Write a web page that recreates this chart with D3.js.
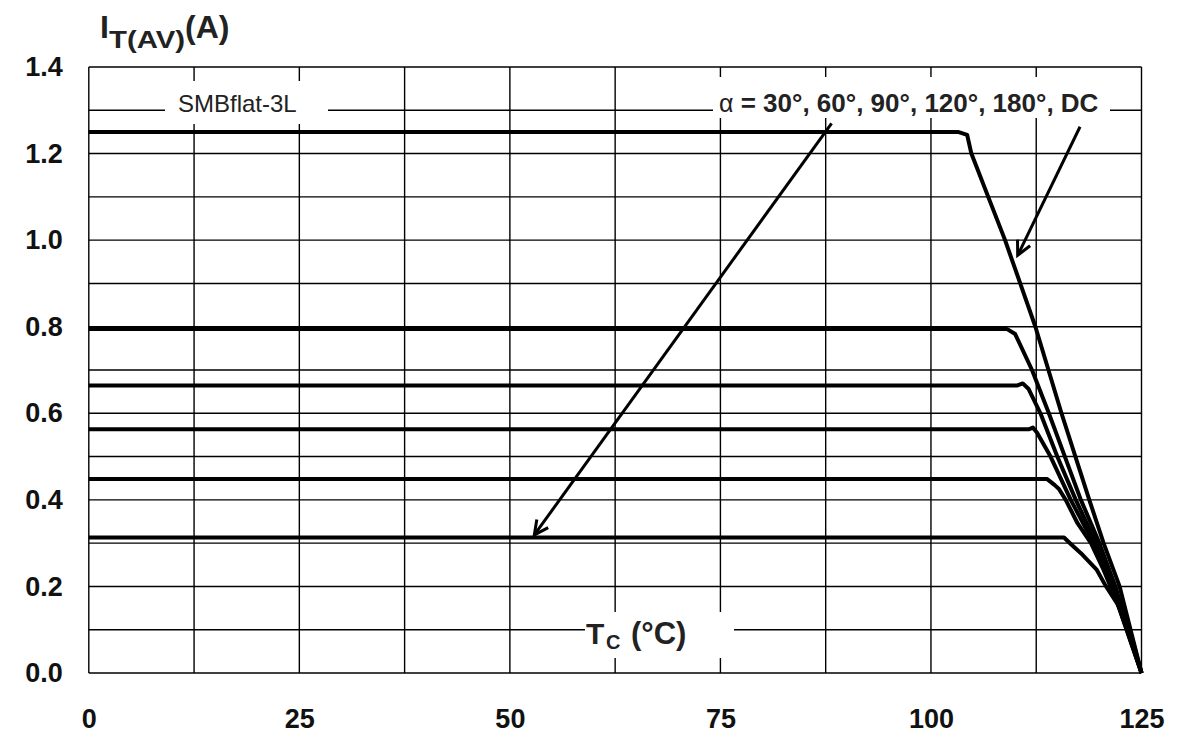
<!DOCTYPE html>
<html>
<head>
<meta charset="utf-8">
<script src="https://cdn.jsdelivr.net/npm/d3@7"></script>
<style>
  body { margin: 0; background: #fff; }
  svg { display: block; font-family: "Liberation Sans", Arial, sans-serif; }
</style>
</head>
<body>
<div id="grafico"></div>
<script>
// Datos (Tc en °C, IT(AV) en A)
const tempTicks = [0, 25, 50, 75, 100, 125];
const currentTicks = [0, 0.2, 0.4, 0.6, 0.8, 1.0, 1.2, 1.4];
const tempGrid = d3.range(0, 125.1, 12.5);
const currentGrid = d3.range(0, 1.41, 0.1);

const serieDC = [[0, 1.25], [103.2, 1.25], [104.3, 1.243], [104.8, 1.2], [106.8, 1.1], [108.8, 1.0],
  [110.6, 0.9], [112.4, 0.8], [115.5, 0.6], [118.8, 0.4], [120.5, 0.3], [122.4, 0.2], [125, 0]];
const serie180 = [[0, 0.795], [109.0, 0.795], [110.0, 0.783], [112.0, 0.7], [114.0, 0.6], [115.9, 0.5],
  [117.8, 0.4], [120.0, 0.3], [121.9, 0.2], [125, 0]];
const serie120 = [[0, 0.664], [110.2, 0.664], [110.9, 0.669], [111.6, 0.656], [113.0, 0.6], [115.0, 0.5],
  [117.2, 0.4], [119.6, 0.3], [121.7, 0.2], [125, 0]];
const serie90 = [[0, 0.563], [111.6, 0.563], [112.1, 0.567], [112.6, 0.555], [114.2, 0.5], [116.6, 0.4],
  [119.3, 0.3], [121.5, 0.2], [125, 0]];
const serie60 = [[0, 0.448], [113.8, 0.448], [114.7, 0.434], [115.2, 0.425], [116.0, 0.4], [117.4, 0.346],
  [119.0, 0.3], [120.5, 0.238], [122.1, 0.163], [125, 0]];
const serie30 = [[0, 0.313], [115.8, 0.313], [116.6, 0.298], [118.0, 0.273], [119.7, 0.238], [120.7, 0.203],
  [122.1, 0.161], [123.5, 0.107], [125, 0]];
const series = [serieDC, serie180, serie120, serie90, serie60, serie30];

// Flechas de anotación (coordenadas en unidades de datos)
const flechas = [
  { from: [88.2, 1.27], to: [52.9, 0.319] },
  { from: [117.7, 1.262], to: [110.3, 0.965] }
];

const width = 1193, height = 741;
const margin = { left: 88.8, right: 51.5, top: 67, bottom: 68 };

const svg = d3.select("#grafico")
  .append("svg")
  .attr("width", width)
  .attr("height", height);

const x = d3.scaleLinear().domain([0, 125]).range([margin.left, width - margin.right]);
const y = d3.scaleLinear().domain([0, 1.4]).range([height - margin.bottom, margin.top]);

// Rejilla
const grid = svg.append("g").attr("stroke", "#000").attr("stroke-width", 1.4);
grid.selectAll(".gv").data(tempGrid).enter().append("line")
  .attr("x1", d => x(d)).attr("x2", d => x(d))
  .attr("y1", y(0)).attr("y2", y(1.4));
grid.selectAll(".gh").data(currentGrid).enter().append("line")
  .attr("x1", x(0)).attr("x2", x(125))
  .attr("y1", d => y(d)).attr("y2", d => y(d));

// Cajas blancas detrás de las etiquetas
const cajas = [[165, 81, 163, 43], [713, 77, 397, 41], [585, 612, 149, 46]];
svg.selectAll(".caja").data(cajas).enter().append("rect")
  .attr("x", d => d[0]).attr("y", d => d[1])
  .attr("width", d => d[2]).attr("height", d => d[3])
  .attr("fill", "#fff");

// Ejes
const ejeX = svg.append("g")
  .attr("transform", `translate(0, ${y(0)})`)
  .call(d3.axisBottom(x).tickValues(tempTicks).tickSize(0).tickPadding(36).tickFormat(d3.format("d")));
const ejeY = svg.append("g")
  .attr("transform", `translate(${x(0)}, 0)`)
  .call(d3.axisLeft(y).tickValues(currentTicks).tickSize(0).tickPadding(26).tickFormat(d3.format(".1f")));
[ejeX, ejeY].forEach(g => {
  g.select(".domain").remove();
  g.selectAll("text")
    .attr("fill", "#111")
    .style("font-size", "27px")
    .style("font-weight", "bold")
    .style("font-family", "'Liberation Sans', Arial, sans-serif");
});

// Curvas
const line = d3.line().x(d => x(d[0])).y(d => y(d[1]));
svg.selectAll(".curva").data(series).enter().append("path")
  .attr("fill", "none")
  .attr("stroke", "#000")
  .attr("stroke-width", 4)
  .attr("stroke-linejoin", "round")
  .attr("d", line);

// Flechas
svg.append("defs").append("marker")
  .attr("id", "punta")
  .attr("viewBox", "0 0 20 20")
  .attr("refX", 17).attr("refY", 10)
  .attr("markerWidth", 20).attr("markerHeight", 20)
  .attr("markerUnits", "userSpaceOnUse")
  .attr("orient", "auto")
  .append("path")
  .attr("d", "M3,3 L17,10 L3,17")
  .attr("fill", "none")
  .attr("stroke", "#000")
  .attr("stroke-width", 3);

svg.selectAll(".flecha").data(flechas).enter().append("line")
  .attr("x1", d => x(d.from[0])).attr("y1", d => y(d.from[1]))
  .attr("x2", d => x(d.to[0])).attr("y2", d => y(d.to[1]))
  .attr("stroke", "#000")
  .attr("stroke-width", 3)
  .attr("marker-end", "url(#punta)");

// Textos
svg.append("text")
  .attr("x", 178).attr("y", 112)
  .style("font-size", "24px")
  .attr("fill", "#222")
  .text("SMBflat-3L");

const alfa = svg.append("text")
  .attr("x", 719).attr("y", 112)
  .attr("fill", "#222")
  .style("font-size", "26px");
alfa.append("tspan").style("font-size", "25px").text("α");
alfa.append("tspan").style("font-weight", "bold").text(" = 30°, 60°, 90°, 120°, 180°, DC");

// Título del eje Y: IT(AV)(A)
svg.append("text")
  .attr("x", 100).attr("y", 38)
  .attr("fill", "#222")
  .style("font-size", "32px").style("font-weight", "bold")
  .text("I");
svg.append("text")
  .attr("x", 109).attr("y", 47.5)
  .attr("fill", "#222")
  .attr("textLength", 76).attr("lengthAdjust", "spacingAndGlyphs")
  .style("font-size", "23px").style("font-weight", "bold")
  .text("T(AV)");
svg.append("text")
  .attr("x", 185).attr("y", 38)
  .attr("fill", "#222")
  .style("font-size", "32px").style("font-weight", "bold")
  .text("(A)");

// Título del eje X: TC (°C)
svg.append("text")
  .attr("x", 586).attr("y", 643.5)
  .attr("fill", "#222")
  .style("font-size", "30px").style("font-weight", "bold")
  .text("T");
svg.append("text")
  .attr("x", 606).attr("y", 648.5)
  .attr("fill", "#222")
  .style("font-size", "20px").style("font-weight", "bold")
  .text("C");
svg.append("text")
  .attr("x", 631).attr("y", 643.5)
  .attr("fill", "#222")
  .style("font-size", "31px").style("font-weight", "bold")
  .text("(°C)");
</script>
</body>
</html>
